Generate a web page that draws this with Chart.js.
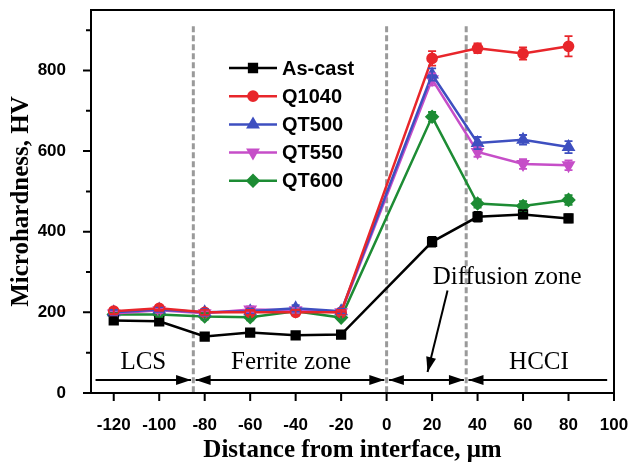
<!DOCTYPE html>
<html>
<head>
<meta charset="utf-8">
<script src="https://cdn.jsdelivr.net/npm/chart.js@4.4.0/dist/chart.umd.min.js"></script>
<style>
  html, body { margin: 0; padding: 0; background: #fff; }
  #wrap { width: 630px; height: 466px; }
</style>
</head>
<body>
<div id="wrap"><canvas id="hardnessChart" width="630" height="466"></canvas></div>
<script>
// Microhardness profile across the LCS / HCCI interface
var distances = [-120, -100, -80, -60, -40, -20, 20, 40, 60, 80];

var asCast = [180, 178, 140, 150, 143, 145, 375, 437, 443, 433];
var q1040  = [203, 210, 200, 200, 200, 200, 830, 855, 842, 860];
var qt500  = [200, 207, 200, 203, 210, 203, 790, 620, 628, 610];
var qt550  = [197, 205, 198, 207, 205, 200, 778, 598, 568, 565];
var qt600  = [195, 195, 190, 188, 203, 187, 685, 470, 464, 479];

var asCastErr = [8, 6, 6, 6, 6, 6, 12, 12, 10, 10];
var q1040Err  = [8, 6, 6, 6, 6, 6, 18, 12, 15, 25];
var qt500Err  = [6, 6, 8, 6, 8, 6, 15, 15, 12, 15];
var qt550Err  = [6, 6, 6, 8, 6, 6, 15, 12, 12, 12];
var qt600Err  = [6, 6, 8, 8, 6, 6, 12, 10, 12, 12];

var seriesNames = ['As-cast', 'Q1040', 'QT500', 'QT550', 'QT600'];
var seriesColors = ['#000000', '#e8262b', '#3e4fc0', '#c64ec8', '#1d8c34'];

var xTicks = [-120, -100, -80, -60, -40, -20, 0, 20, 40, 60, 80, 100];
var yTicks = [0, 100, 200, 300, 400, 500, 600, 700, 800, 900];
var zoneBounds = [-85, 0, 35];

var seriesValues = [asCast, q1040, qt500, qt550, qt600];
var seriesErrors = [asCastErr, q1040Err, qt500Err, qt550Err, qt600Err];
var markerStyles = [
  { pointStyle: 'rect', radius: 5.5, rotation: 0 },
  { pointStyle: 'circle', radius: 4.6, rotation: 0 },
  { pointStyle: 'triangle', radius: 5.5, rotation: 0 },
  { pointStyle: 'triangle', radius: 5.5, rotation: 180 },
  { pointStyle: 'rectRot', radius: 5.5, rotation: 0 }
];

var datasets = seriesNames.map(function (name, i) {
  return {
    label: name,
    data: distances.map(function (d, j) { return { x: d, y: seriesValues[i][j] }; }),
    borderColor: seriesColors[i],
    backgroundColor: seriesColors[i],
    pointBackgroundColor: seriesColors[i],
    pointBorderColor: seriesColors[i],
    pointStyle: markerStyles[i].pointStyle,
    pointRadius: markerStyles[i].radius,
    pointRotation: markerStyles[i].rotation,
    borderWidth: 2.5,
    tension: 0
  };
});

var serif = '"Liberation Serif", "Times New Roman", serif';

// frame, tick marks and grey zone boundaries
var framePlugin = {
  id: 'frame',
  beforeDatasetsDraw: function (chart) {
    var ctx = chart.ctx, xs = chart.scales.x, ys = chart.scales.y;
    ctx.save();
    ctx.strokeStyle = '#9a9a9a';
    ctx.lineWidth = 3;
    ctx.setLineDash([6, 3]);
    zoneBounds.forEach(function (b) {
      var px = xs.getPixelForValue(b);
      ctx.beginPath();
      ctx.moveTo(px, ys.getPixelForValue(910));
      ctx.lineTo(px, ys.getPixelForValue(0));
      ctx.stroke();
    });
    ctx.restore();
  },
  afterDraw: function (chart) {
    var ctx = chart.ctx, a = chart.chartArea, xs = chart.scales.x, ys = chart.scales.y;
    ctx.save();
    ctx.strokeStyle = '#000';
    ctx.lineWidth = 2;
    ctx.strokeRect(a.left, a.top, a.right - a.left, a.bottom - a.top);
    ctx.beginPath();
    xTicks.forEach(function (v) {
      var px = xs.getPixelForValue(v);
      ctx.moveTo(px, a.bottom);
      ctx.lineTo(px, a.bottom + 8);
    });
    yTicks.forEach(function (v) {
      var py = ys.getPixelForValue(v);
      var len = v % 200 === 0 ? 8 : 5;
      ctx.moveTo(a.left, py);
      ctx.lineTo(a.left - len, py);
    });
    ctx.stroke();
    ctx.restore();
  }
};

// vertical error bars with caps
var errorBarPlugin = {
  id: 'errorBars',
  afterDatasetsDraw: function (chart) {
    var ctx = chart.ctx, xs = chart.scales.x, ys = chart.scales.y;
    ctx.save();
    ctx.lineWidth = 1.8;
    for (var i = seriesValues.length - 1; i >= 0; i--) {
      ctx.strokeStyle = seriesColors[i];
      distances.forEach(function (d, j) {
        var px = xs.getPixelForValue(d);
        var lo = ys.getPixelForValue(seriesValues[i][j] - seriesErrors[i][j]);
        var hi = ys.getPixelForValue(seriesValues[i][j] + seriesErrors[i][j]);
        ctx.beginPath();
        ctx.moveTo(px, lo); ctx.lineTo(px, hi);
        ctx.moveTo(px - 4, lo); ctx.lineTo(px + 4, lo);
        ctx.moveTo(px - 4, hi); ctx.lineTo(px + 4, hi);
        ctx.stroke();
      });
    }
    ctx.restore();
  }
};

function arrowHead(ctx, tipX, tipY, fromX, fromY) {
  var ang = Math.atan2(tipY - fromY, tipX - fromX);
  var len = 15, half = 5;
  ctx.beginPath();
  ctx.moveTo(tipX, tipY);
  ctx.lineTo(tipX - len * Math.cos(ang) + half * Math.sin(ang), tipY - len * Math.sin(ang) - half * Math.cos(ang));
  ctx.lineTo(tipX - len * Math.cos(ang) - half * Math.sin(ang), tipY - len * Math.sin(ang) + half * Math.cos(ang));
  ctx.closePath();
  ctx.fill();
}

function arrow(ctx, x1, y1, x2, y2, startHead, endHead) {
  ctx.beginPath();
  ctx.moveTo(x1, y1);
  ctx.lineTo(x2, y2);
  ctx.stroke();
  if (startHead) arrowHead(ctx, x1, y1, x2, y2);
  if (endHead) arrowHead(ctx, x2, y2, x1, y1);
}

// zone labels, arrows and the inset legend
var annotationPlugin = {
  id: 'zones',
  afterDraw: function (chart) {
    var ctx = chart.ctx, xs = chart.scales.x, ys = chart.scales.y;
    var X = function (v) { return xs.getPixelForValue(v); };
    var Y = function (v) { return ys.getPixelForValue(v); };
    ctx.save();
    ctx.fillStyle = '#000';
    ctx.strokeStyle = '#000';
    ctx.lineWidth = 2;
    ctx.font = '25px ' + serif;
    ctx.textAlign = 'center';
    ctx.textBaseline = 'middle';
    ctx.fillText('LCS', X(-107), Y(77));
    ctx.fillText('Ferrite zone', X(-42), Y(77));
    ctx.fillText('HCCI', X(67), Y(75));
    ctx.fillText('Diffusion zone', X(53), Y(286));

    var ay = Y(32);
    arrow(ctx, X(-128), ay, X(-86), ay, false, true);
    arrow(ctx, X(-84), ay, X(-1), ay, true, true);
    arrow(ctx, X(1), ay, X(34), ay, true, true);
    arrow(ctx, X(36), ay, X(97), ay, true, false);
    arrow(ctx, X(26.8), Y(254), X(18), Y(52), false, true);

    // legend
    ctx.textAlign = 'left';
    ctx.font = 'bold 20px "Liberation Sans", Arial, sans-serif';
    seriesNames.forEach(function (name, i) {
      var ly = 68 + i * 28.2;
      ctx.strokeStyle = seriesColors[i];
      ctx.fillStyle = seriesColors[i];
      ctx.lineWidth = 2.5;
      ctx.beginPath();
      ctx.moveTo(229, ly);
      ctx.lineTo(277, ly);
      ctx.stroke();
      Chart.helpers.drawPoint(ctx, {
        pointStyle: markerStyles[i].pointStyle,
        radius: markerStyles[i].radius,
        rotation: markerStyles[i].rotation,
        borderWidth: 1
      }, 253, ly);
      ctx.fillStyle = '#000';
      ctx.fillText(name, 282, ly + 1);
    });
    ctx.restore();
  }
};

function noScalePadding(scale) {
  scale.paddingTop = 0;
  scale.paddingBottom = 0;
  scale.paddingLeft = 0;
  scale.paddingRight = 0;
}

var ctx = document.getElementById('hardnessChart').getContext('2d');

var hardnessChart = new Chart(ctx, {
  type: 'line',
  data: { datasets: datasets },
  options: {
    responsive: false,
    animation: false,
    devicePixelRatio: 1,
    layout: { padding: { top: 10, right: 16, left: 0, bottom: 0 } },
    plugins: {
      legend: { display: false },
      tooltip: { enabled: false }
    },
    scales: {
      x: {
        type: 'linear',
        min: -130,
        max: 100,
        afterBuildTicks: function (scale) {
          scale.ticks = xTicks.map(function (v) { return { value: v }; });
        },
        afterFit: function (scale) { scale.height = 73; noScalePadding(scale); },
        grid: { display: false },
        border: { display: false },
        ticks: {
          color: '#000',
          font: { family: '"Liberation Sans", Arial, sans-serif', size: 17, weight: 'bold' },
          padding: 14,
          maxRotation: 0
        },
        title: {
          display: true,
          text: 'Distance from interface, μm',
          color: '#000',
          font: { family: serif, size: 25, weight: 'bold' },
          padding: { top: 0, bottom: 0 }
        }
      },
      y: {
        type: 'linear',
        min: 0,
        max: 950,
        afterBuildTicks: function (scale) {
          scale.ticks = yTicks.map(function (v) { return { value: v }; });
        },
        afterFit: function (scale) { scale.width = 91; noScalePadding(scale); },
        grid: { display: false },
        border: { display: false },
        ticks: {
          color: '#000',
          font: { family: '"Liberation Sans", Arial, sans-serif', size: 17, weight: 'bold' },
          padding: 17,
          callback: function (v) { return v % 200 === 0 ? v : ''; }
        },
        title: {
          display: true,
          text: 'Microhardness, HV',
          color: '#000',
          font: { family: serif, size: 25, weight: 'bold' },
          padding: { top: 7, bottom: 7 }
        }
      }
    }
  },
  plugins: [framePlugin, errorBarPlugin, annotationPlugin]
});
</script>
</body>
</html>
